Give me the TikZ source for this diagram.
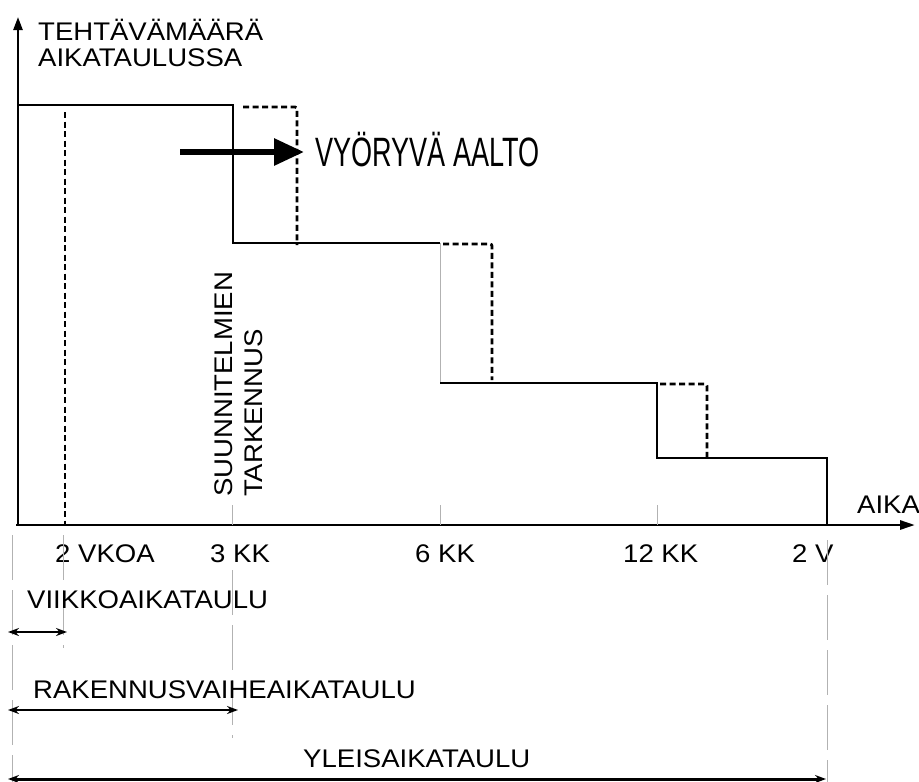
\documentclass[tikz,border=0pt]{standalone}
\usepackage{fontspec}
\setmainfont{Liberation Sans}
\newfontfamily\lblfont[FakeStretch=1.08]{Liberation Sans}
\newfontfamily\wavefont[FakeStretch=0.66]{Liberation Sans}
\usetikzlibrary{arrows.meta}

\begin{document}
\begin{tikzpicture}[x=1pt,y=-1pt,
		lbl/.style={font=\lblfont\fontsize{25.5}{30}\selectfont,inner sep=0pt,anchor=base west},
		solidline/.style={line width=2.8pt},
		dashline/.style={line width=2.8pt,dash pattern=on 6pt off 3.5pt,rounded corners=2pt},
		faint/.style={draw=black!30,line width=0.8pt},
		guide/.style={faint,dash pattern=on 45pt off 10pt},
		spanarrow/.style={line width=2pt,{Stealth[length=11pt,width=8pt]}-{Stealth[length=11pt,width=8pt]}}]
			\useasboundingbox (0,0) rectangle (919,782);

			% axes
			\coordinate (origin) at (16,525);
			\coordinate (ytop) at (18,17);
			\coordinate (xend) at (915,525);
			\draw[line width=2.4pt,-{Triangle[length=13pt,width=9pt]}] (18,525) -- (ytop);
			\draw[line width=2.8pt,-{Triangle[length=15pt,width=9pt]}] (origin) -- (xend);
			\node[lbl] (ylabel) at (38,40) {TEHTÄVÄMÄÄRÄ};
			\node[lbl] (ylabel2) at (38,66) {AIKATAULUSSA};
			\node[lbl] (xlabel) at (857,513) {AIKA};

			% planned workload, solid steps
			\coordinate (s0) at (18,105);
			\coordinate (s1) at (233,105);
			\coordinate (s2) at (233,243);
			\coordinate (s3) at (440,243);
			\coordinate (s4) at (440,383);
			\coordinate (s5) at (657,383);
			\coordinate (s6) at (657,458);
			\coordinate (s7) at (827,458);
			\coordinate (s8) at (827,525);
			\draw[solidline] (s0) -- (s1) -- (s2) -- (s3);
			\draw[faint] (s3) -- (s4);
			\draw[solidline] (s4) -- (s5) -- (s6) -- (s7) -- (s8);

			% rolled forward, dashed steps
			\draw[dashline] (65,112) -- (65,525);
			\draw[dashline] (243,107) -| (297,245);
			\draw[dashline] (443,244) -| (492,380);
			\draw[dashline] (660,384) -| (707,458);

			% rolling wave
			\node[font=\wavefont\fontsize{41}{42}\selectfont,inner sep=0pt,anchor=base west] (wave) at (315,166) {VYÖRYVÄ AALTO};
			\coordinate (wavestart) at (180,152);
			\draw[line width=6pt,-{Triangle[length=30pt,width=26pt]}] (wavestart) -- (304,152);

			\node[lbl,rotate=90,anchor=west,align=left] (refine) at (239,497) {SUUNNITELMIEN\\TARKENNUS};

			% time axis
			\foreach \x in {232,440,657}
				\draw[faint] (\x,505) -- (\x,525);
			\foreach \x/\t in {55/2 VKOA,210/3 KK,415/6 KK,623/12 KK,792/2 V}
				\node[lbl] (tick-\x) at (\x,562) {\t};

			% schedule levels
			\draw[guide] (12,535) -- (12,782);
			\draw[guide] (63,535) -- (63,648);
			\draw[guide] (232,570) -- (232,738);
			\draw[guide] (827,540) -- (827,782);

			\node[lbl] (weekly) at (27,608) {VIIKKOAIKATAULU};
			\coordinate (wk0) at (8,632);
			\coordinate (wk1) at (67,632);
			\draw[spanarrow] (wk0) -- (wk1);

			\node[lbl] (phase) at (33,698) {RAKENNUSVAIHEAIKATAULU};
			\coordinate (ph0) at (8,710);
			\coordinate (ph1) at (238,710);
			\draw[spanarrow] (ph0) -- (ph1);

			\node[lbl] (master) at (303,767) {YLEISAIKATAULU};
			\coordinate (ms0) at (8,779);
			\coordinate (ms1) at (826,779);
			\draw[spanarrow,line width=3pt] (ms0) -- (ms1);
		\end{tikzpicture}
\end{document}
